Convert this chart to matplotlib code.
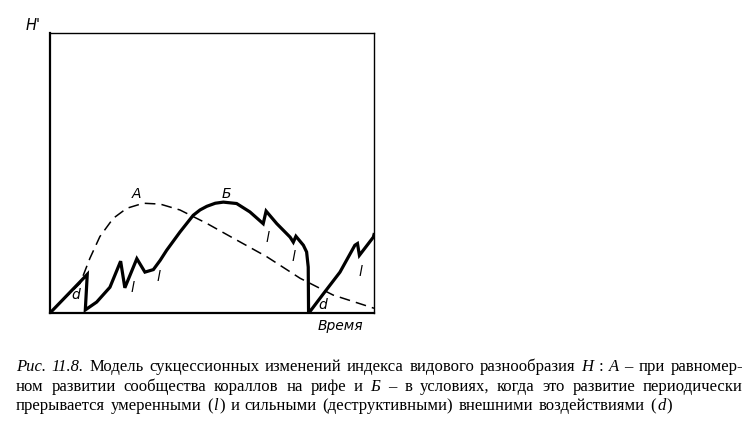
import matplotlib
matplotlib.use("Agg")
import matplotlib.pyplot as plt

# time / H' in arbitrary units (0..100)
a_time = [0, 5.1, 9.3, 12.3, 15.4, 19.5, 23.7, 28.8, 34.0, 40.1, 48.4, 56.6, 66.9, 77.2, 87.4, 100]
a_h = [0, 5.9, 10.6, 19.5, 27.3, 33.8, 37.4, 39.2, 38.9, 36.8, 32.0, 26.7, 20.1, 12.4, 6.4, 1.7]

b_time = [0, 11.5, 10.9, 14.4, 18.5, 21.8, 23.1, 26.8, 29.3, 31.9, 34.0, 36.0, 40.1, 44.2, 46.3,
          48.4, 51.0, 53.5, 57.6, 61.7, 65.8, 66.7, 70.0, 74.1, 75.1, 75.9, 78.2, 79.2, 79.7,
          79.8, 79.9, 84.4, 89.5, 94.1, 94.9, 95.5, 99.8, 100]
b_h = [0, 13.8, 1.1, 3.9, 9.2, 18.5, 9.0, 19.4, 14.6, 15.5, 18.8, 22.4, 28.9, 34.9, 36.8,
       38.1, 39.2, 39.6, 39.1, 36.1, 31.9, 36.4, 31.9, 27.1, 25.3, 27.4, 24.2, 21.8, 16.4,
       0.3, 0, 6.9, 14.6, 24.2, 24.8, 20.6, 27.1, 28.0]

curve_labels = ["A", "Б"]
curve_label_pos = [(26.8, 42.6), (54.5, 42.6)]
l_pos = [(25.6, 9.1), (33.6, 12.7), (67.0, 26.7), (75.0, 19.9), (95.7, 14.5)]
d_pos = [(8.0, 6.3), (84.3, 2.7)]

# caption lines: (word, italic, glue to previous word)
caption = [
    [("Рис.", True, False), ("11.8.", True, False), ("Модель", False, False),
     ("сукцессионных", False, False), ("изменений", False, False), ("индекса", False, False),
     ("видового", False, False), ("разнообразия", False, False), ("H", True, False),
     (":", False, False), ("A", True, False), ("–", False, False), ("при", False, False),
     ("равномер-", False, False)],
    [("ном", False, False), ("развитии", False, False), ("сообщества", False, False),
     ("кораллов", False, False), ("на", False, False), ("рифе", False, False),
     ("и", False, False), ("Б", True, False), ("–", False, False), ("в", False, False),
     ("условиях,", False, False), ("когда", False, False), ("это", False, False),
     ("развитие", False, False), ("периодически", False, False)],
    [("прерывается", False, False), ("умеренными", False, False), ("(", False, False),
     ("l", True, True), (")", False, True), ("и", False, False), ("сильными", False, False),
     ("(деструктивными)", False, False), ("внешними", False, False),
     ("воздействиями", False, False), ("(", False, False), ("d", True, True), (")", False, True)],
]

W, H = 749, 423
fig = plt.figure(figsize=(W / 100, H / 100), dpi=100)
ax = fig.add_axes([50 / W, (H - 313) / H, 324 / W, 280 / H])

ax.plot(a_time, a_h, color="black", lw=1.1, dashes=(7, 4))
ax.plot(b_time, b_h, color="black", lw=2.3, solid_joinstyle="miter")

lab = dict(style="italic", fontsize=10, ha="center", va="center", family="DejaVu Sans")
for s, (x, y) in zip(curve_labels, curve_label_pos):
    ax.text(x, y, s, **lab)
for x, y in l_pos:
    ax.text(x, y, "l", **lab)
for x, y in d_pos:
    ax.text(x, y, "d", **lab)

ax.set_xlim(0, 100)
ax.set_ylim(0, 100)
ax.set_xticks([])
ax.set_yticks([])
for side in ["left", "bottom"]:
    ax.spines[side].set_linewidth(1.6)
for side in ["top", "right"]:
    ax.spines[side].set_linewidth(1.0)

fig.text(33 / W, 1 - 26 / H, "H'", style="italic", fontsize=10.5, ha="center", va="center")
fig.text(340 / W, 1 - 326 / H, "Время", style="italic", fontsize=10, ha="center", va="center")

# justified caption
renderer = fig.canvas.get_renderer()
left = 16
rights = [743, 743, 672]
baselines = [371, 391, 410]
for line, right, base in zip(caption, rights, baselines):
    items = []
    for word, it, glue in line:
        t = fig.text(0, 0, word, family="Liberation Serif", fontsize=12,
                     style="italic" if it else "normal", va="baseline", ha="left")
        items.append(t)
    widths = [t.get_window_extent(renderer).width for t in items]
    n_gaps = sum(1 for w in line[1:] if not w[2])
    n_glue = len(line) - 1 - n_gaps
    gap = (right - left - sum(widths) - n_glue) / n_gaps
    x = left
    for i, (t, w) in enumerate(zip(items, widths)):
        if i > 0:
            x += 1 if line[i][2] else gap
        t.set_position((x / W, 1 - base / H))
        x += w

fig.savefig("out.png", dpi=100)
